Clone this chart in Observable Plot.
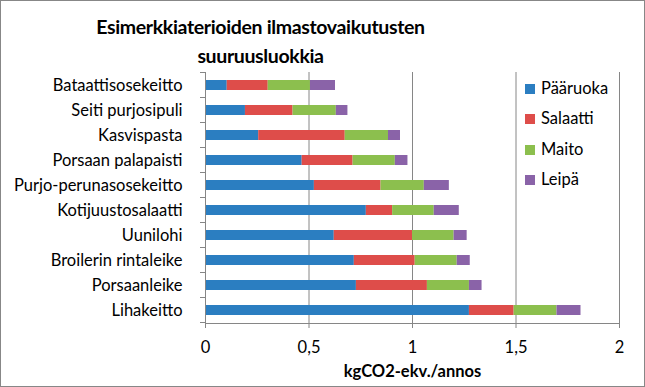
<!DOCTYPE html>
<html><head><meta charset="utf-8">
<script src="https://cdn.jsdelivr.net/npm/d3@7"></script>
<script src="https://cdn.jsdelivr.net/npm/@observablehq/plot@0.6"></script>
<style>
body{margin:0;background:#fff;}
#wrap{position:relative;width:645px;height:387px;overflow:hidden;font-family:Lato,sans-serif;background:#fff;}
#chart{position:absolute;left:0;top:0;}
#frame{position:absolute;left:0;top:0;width:645px;height:387px;box-sizing:border-box;border:1px solid #878787;pointer-events:none;}
#title{position:absolute;left:0;width:521px;top:12px;text-align:center;font-weight:bold;font-size:19.5px;letter-spacing:-0.35px;line-height:29px;color:#000;}
.lg{position:absolute;left:525px;height:20px;font-size:16.5px;line-height:20px;color:#000;white-space:nowrap;}
.lg span{display:inline-block;width:10px;height:10px;margin-right:6px;vertical-align:0px;}
</style></head>
<body>
<div id="wrap">
  <div id="chart"></div>
  <div id="title"></div>
  <div id="legend"></div>
  <div id="frame"></div>
</div>
<script>
const titleLines = ["Esimerkkiaterioiden ilmastovaikutusten", "suuruusluokkia"];
const xLabel = "kgCO2-ekv./annos";
const meals = ["Bataattisosekeitto","Seiti purjosipuli","Kasvispasta","Porsaan palapaisti","Purjo-perunasosekeitto","Kotijuustosalaatti","Uunilohi","Broilerin rintaleike","Porsaanleike","Lihakeitto"];
const components = ["Pääruoka","Salaatti","Maito","Leipä"];
const colors = ["#2B7EC1","#DE4D4A","#8CBF4E","#8A63A8"];
const xTicks = [0, 0.5, 1, 1.5, 2];
const paaruoka = [0.105, 0.193, 0.257, 0.467, 0.526, 0.777, 0.622, 0.719, 0.729, 1.275];
const salaatti = [0.198, 0.230, 0.418, 0.246, 0.322, 0.127, 0.378, 0.294, 0.343, 0.216];
const maito    = [0.204, 0.209, 0.209, 0.204, 0.209, 0.201, 0.201, 0.203, 0.203, 0.207];
const leipa    = [0.121, 0.056, 0.058, 0.061, 0.121, 0.121, 0.063, 0.063, 0.061, 0.116];
const series = [paaruoka, salaatti, maito, leipa];

const data = components.flatMap((c, i) => meals.map((m, j) => ({meal: m, component: c, value: series[i][j]})));

document.getElementById("title").innerHTML = titleLines.join("<br>");
const legend = document.getElementById("legend");
components.forEach((c, i) => {
  const d = document.createElement("div");
  d.className = "lg";
  d.style.top = (78 + i * 30.3) + "px";
  d.innerHTML = `<span style="background:${colors[i]}"></span>${c}`;
  legend.appendChild(d);
});

const grey = "#868686";
const boundaryTicks = Plot.ruleY(meals, {
  y: d => d,
  render: (index, scales, values, dims) => {
    const y = scales.y;
    const half = (y.step() - y.bandwidth()) / 2;
    const g = d3.create("svg:g");
    const ys = meals.map(m => y(m) - half);
    ys.push(y(meals[meals.length - 1]) + y.bandwidth() + half);
    for (const yy of ys) {
      g.append("line").attr("x1", dims.marginLeft - 5).attr("x2", dims.marginLeft)
        .attr("y1", yy).attr("y2", yy).attr("stroke", grey);
    }
    return g.node();
  }
});

const chart = Plot.plot({
  width: 645, height: 387,
  marginTop: 72, marginBottom: 64, marginLeft: 205, marginRight: 26,
  style: {fontFamily: "Lato, sans-serif", fontSize: "16px", color: "#000", background: "transparent"},
  x: {domain: [0, 2]},
  y: {domain: meals, paddingInner: 0.6, paddingOuter: 0.3},
  color: {domain: components, range: colors},
  marks: [
    Plot.gridX(xTicks.slice(1), {stroke: grey, strokeOpacity: 1}),
    Plot.barX(data, Plot.stackX({y: "meal", x: "value", fill: "component"})),
    Plot.ruleX([0], {stroke: grey}),
    Plot.frame({anchor: "bottom", stroke: grey}),
    Plot.axisX(xTicks, {tickSize: 5, tickPadding: 13, stroke: grey, fill: "#000", fontSize: 16.5, label: null, tickFormat: d => String(d).replace(".", ",")}),
    Plot.axisY({tickSize: 0, tickPadding: 23, label: null, fontSize: 16.5, fill: "#000"}),
    boundaryTicks,
    Plot.text([xLabel], {frameAnchor: "bottom", dy: 53, fontWeight: "bold", fontSize: 16.5, fill: "#000"})
  ]
});
document.getElementById("chart").appendChild(chart);
</script>
</body></html>
